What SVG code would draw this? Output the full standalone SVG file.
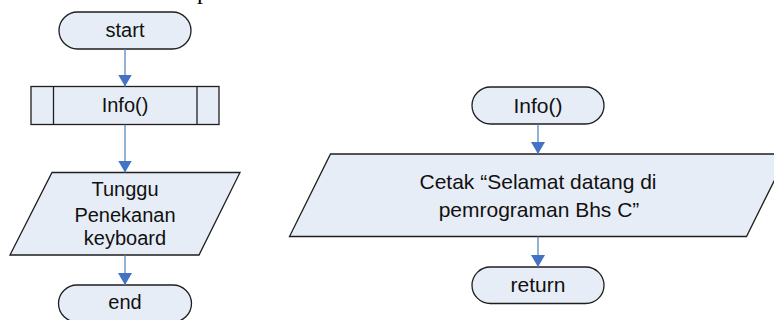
<svg xmlns="http://www.w3.org/2000/svg" width="774" height="320" viewBox="0 0 774 320">
<defs>
<style>
.shape{fill:#E7EDF7;stroke:#1e1e1e;stroke-width:1.3}
.inner{fill:none;stroke:#1e1e1e;stroke-width:1.3}
.lbl{font-family:"Liberation Sans",Arial,sans-serif;font-size:20px;fill:#111;text-anchor:middle}
.lbl2{font-family:"Liberation Sans",Arial,sans-serif;font-size:21px;fill:#111;text-anchor:middle}
.conn{stroke:#4A7EBB;stroke-width:1.2;fill:none;marker-end:url(#arr)}
</style>
<marker id="arr" viewBox="0 0 12 14" refX="12" refY="7" markerWidth="12" markerHeight="14" markerUnits="userSpaceOnUse" orient="auto">
<path d="M0,0 L12,7 L0,14 z" fill="#4472C4"/>
</marker>
</defs>
<rect width="774" height="320" fill="#ffffff"/>
<text x="197" y="-1" font-family="'Liberation Serif','Times New Roman',serif" font-size="24" fill="#000">p</text>

<g id="start">
<rect class="shape" x="59" y="12" width="132" height="37" rx="18.5" ry="18.5"/>
<text class="lbl" x="125" y="37">start</text>
</g>
<g id="info-call">
<rect class="shape" x="31" y="86.5" width="188" height="38"/>
<line class="inner" x1="53.5" y1="86.5" x2="53.5" y2="124.5"/>
<line class="inner" x1="197" y1="86.5" x2="197" y2="124.5"/>
<text class="lbl" x="125" y="112">Info()</text>
</g>
<g id="tunggu">
<polygon class="shape" points="52,172.5 240,172.5 199,255 10,255"/>
<text class="lbl" x="125" y="196">Tunggu</text>
<text class="lbl" x="125" y="221.5">Penekanan</text>
<text class="lbl" x="125" y="245">keyboard</text>
</g>
<g id="end">
<rect class="shape" x="58.5" y="285" width="133" height="37" rx="18.5" ry="18.5"/>
<text class="lbl" x="125" y="309">end</text>
</g>

<g id="info-start">
<rect class="shape" x="472" y="87" width="132" height="37" rx="18.5" ry="18.5"/>
<text class="lbl2" x="538" y="113">Info()</text>
</g>
<g id="cetak">
<polygon class="shape" points="330.5,154 787.5,154 746.5,236.5 289.5,236.5"/>
<text class="lbl2" x="538" y="189">Cetak “Selamat datang di</text>
<text class="lbl2" x="539" y="216.5">pemrograman Bhs C”</text>
</g>
<g id="return">
<rect class="shape" x="472" y="267" width="132" height="36.5" rx="18.25" ry="18.25"/>
<text class="lbl2" x="538" y="292">return</text>
</g>

<g id="connectors">
<line class="conn" x1="125" y1="49" x2="125" y2="86.5"/>
<line class="conn" x1="125" y1="124.5" x2="125" y2="172.5"/>
<line class="conn" x1="125" y1="255" x2="125" y2="285"/>
<line class="conn" x1="538" y1="124" x2="538" y2="154"/>
<line class="conn" x1="538" y1="236.5" x2="538" y2="267"/>
</g>
</svg>
